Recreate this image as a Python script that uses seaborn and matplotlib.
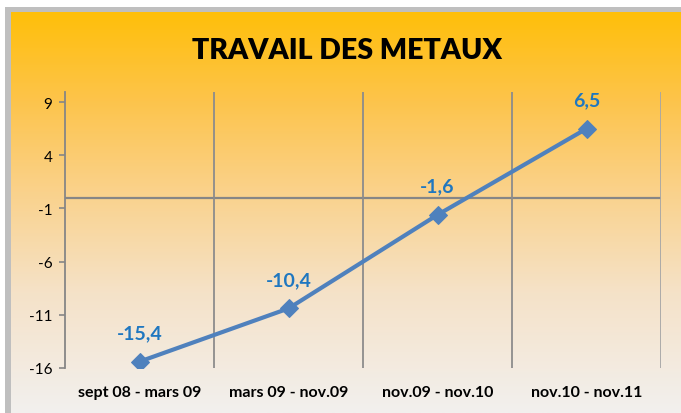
import numpy as np
import pandas as pd
import matplotlib
matplotlib.use("Agg")
import matplotlib.pyplot as plt
import seaborn as sns
from matplotlib.colors import LinearSegmentedColormap

# ---- data ----
categories = ["sept 08 - mars 09", "mars 09 - nov.09", "nov.09 - nov.10", "nov.10 - nov.11"]
values = [-15.4, -10.4, -1.6, 6.5]
value_labels = ["-15,4", "-10,4", "-1,6", "6,5"]
yticks = [9, 4, -1, -6, -11, -16]
title = "TRAVAIL DES METAUX"

sns.set_theme(style="white")
plt.rcParams['font.family'] = ['Lato', 'DejaVu Sans']

W, H = 681, 414
fig = plt.figure(figsize=(W / 100, H / 100), dpi=100)
fig.patch.set_facecolor("white")

# gray frame + gradient background
frame_ax = fig.add_axes([5 / W, 0, 1 - 5 / W, 1 - 8 / H], zorder=-2)
frame_ax.set_facecolor("#bfbfbf")
frame_ax.set_xticks([]); frame_ax.set_yticks([])
for s in frame_ax.spines.values():
    s.set_visible(False)

bg_ax = fig.add_axes([11 / W, 0, 1 - 11 / W, 1 - 13 / H], zorder=-1)
stops = [(0.0, (255/255, 191/255, 10/255)),
         (0.22, (253/255, 196/255, 75/255)),
         (0.45, (250/255, 210/255, 140/255)),
         (0.7, (245/255, 226/255, 200/255)),
         (1.0, (242/255, 240/255, 238/255))]
cmap = LinearSegmentedColormap.from_list("bg", stops)
grad = np.linspace(0, 1, 256).reshape(-1, 1)
bg_ax.imshow(grad, aspect="auto", cmap=cmap, extent=[0, 1, 0, 1], origin="upper")
bg_ax.set_axis_off()

# main axes
ax = fig.add_axes([65 / W, 1 - 369 / H, (661 - 65) / W, (369 - 93) / H], zorder=1)
ax.patch.set_alpha(0)

df = pd.DataFrame({"cat": categories, "val": values})
df["x"] = np.arange(len(categories))
sns.lineplot(data=df, x="x", y="val", ax=ax, color="#4F81BD", linewidth=3.0,
             marker="D", markersize=9, markeredgecolor="#4F81BD", zorder=5)

ax.set_xlim(-0.5, len(categories) - 0.5)
ax.set_ylim(-16, 9.95)

# grid / reference lines
ax.axhline(0, color="#868686", linewidth=1.6, zorder=2)
for xb in np.arange(0.5, len(categories), 1.0):
    col = "#a6a6a6" if xb == len(categories) - 0.5 else "#8c8c8c"
    ax.axvline(xb, color=col, linewidth=1.3, zorder=2)

for s in ["top", "right", "bottom"]:
    ax.spines[s].set_visible(False)
ax.spines["left"].set_color("#868686")
ax.spines["left"].set_linewidth(1.3)

ax.set_yticks(yticks)
ax.set_yticklabels([str(t) for t in yticks], fontsize=11, color="black")
ax.tick_params(axis="y", direction="out", length=4, width=1.2, color="#868686", pad=5, left=True)
ax.set_xticks(df["x"])
ax.set_xticklabels(categories, fontsize=11.5, fontweight="bold", color="black")
ax.tick_params(axis="x", length=0, pad=12)
ax.set_xlabel("")
ax.set_ylabel("")

for xi, v, lab in zip(df["x"], values, value_labels):
    ax.annotate(lab, (xi, v), xytext=(0, 21), textcoords="offset points",
                ha="center", va="center", fontsize=14, fontweight="bold", color="#1F77C0")

fig.text(347 / W, 1 - 51 / H, title, ha="center", va="center", fontsize=20.5,
         fontweight="heavy", color="black")

fig.savefig("out.png", dpi=100)
